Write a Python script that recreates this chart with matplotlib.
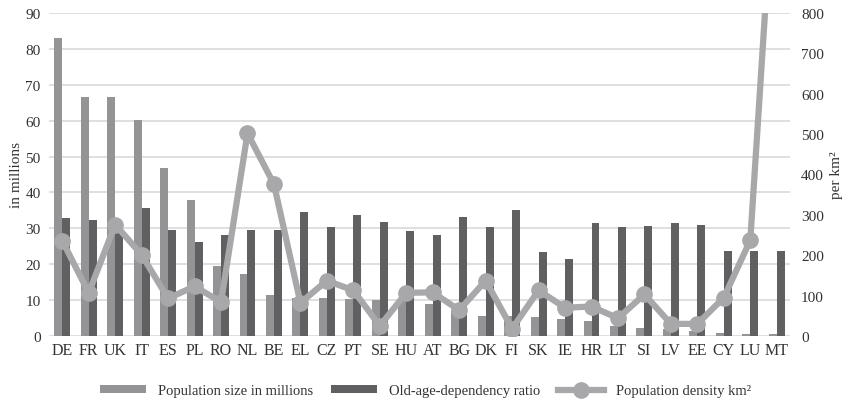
import numpy as np
import matplotlib
matplotlib.use("Agg")
import matplotlib.pyplot as plt

plt.rcParams['font.family'] = ['Liberation Serif', 'DejaVu Serif']

countries = ["DE", "FR", "UK", "IT", "ES", "PL", "RO", "NL", "BE", "EL", "CZ", "PT", "SE", "HU",
             "AT", "BG", "DK", "FI", "SK", "IE", "HR", "LT", "SI", "LV", "EE", "CY", "LU", "MT"]

# population size in millions
population = [83.0, 66.7, 66.5, 60.3, 46.7, 38.0, 19.4, 17.2, 11.4, 10.7, 10.6, 10.3, 10.0, 9.8,
              8.8, 7.1, 5.7, 5.5, 5.4, 4.8, 4.1, 2.8, 2.1, 1.9, 1.3, 0.85, 0.6, 0.46]

# old-age dependency ratio
old_age_ratio = [32.8, 32.3, 29.0, 35.6, 29.5, 26.1, 28.2, 29.5, 29.5, 34.5, 30.3, 33.7, 31.7, 29.2,
                 28.1, 33.1, 30.3, 35.1, 23.3, 21.4, 31.4, 30.3, 30.6, 31.4, 30.9, 23.6, 23.6, 23.6]

# population density per km2
density = [236, 107, 276, 201, 93, 123, 84, 502, 376, 82, 137, 113, 25, 107,
           108, 64, 137, 18, 113, 70, 73, 44, 103, 30, 30, 95, 237, 1250]

light_bar = "#949497"
dark_bar = "#606063"
line_col = "#a8a8ab"
grid_col = "#d9d9d9"
text_col = "#333333"

fig = plt.figure(figsize=(8.51, 4.06), dpi=100)
ax = fig.add_axes([0.0576, 0.170, 0.8707, 0.7955])
ax2 = ax.twinx()

x = np.arange(len(countries))
w = 0.30

ax.bar(x - w / 2, population, width=w, color=light_bar, zorder=2, label="Population size in millions")
ax.bar(x + w / 2, old_age_ratio, width=w, color=dark_bar, zorder=2, label="Old-age-dependency ratio")

ax2.plot(x, density, color=line_col, lw=4.5, marker="o", markersize=11,
         label="Population density km²", zorder=3)

ax.set_xlim(-0.5, len(countries) - 0.5)
ax.set_ylim(0, 90)
ax.set_yticks(range(0, 91, 10))
ax2.set_ylim(0, 800)
ax2.set_yticks(range(0, 801, 100))

ax.set_xticks(x)
ax.set_xticklabels(countries, fontsize=11.5, color=text_col)
ax.tick_params(axis="x", length=0, pad=4)
ax.tick_params(axis="y", length=0, labelsize=11, labelcolor=text_col, pad=6)
ax2.tick_params(axis="y", length=0, labelsize=11, labelcolor=text_col, pad=8)

ax.yaxis.grid(True, color=grid_col, lw=1.2, zorder=0)
ax.set_axisbelow(True)
for a in (ax, ax2):
    for s in a.spines.values():
        s.set_visible(False)

ax.set_ylabel("in millions", fontsize=11, color=text_col, labelpad=2)
ax2.set_ylabel("per km²", fontsize=11, color=text_col, labelpad=4)

# put line above bars
ax2.set_zorder(ax.get_zorder() + 1)
ax.patch.set_visible(True)
ax2.patch.set_visible(False)

h1, l1 = ax.get_legend_handles_labels()
h2, l2 = ax2.get_legend_handles_labels()
fig.legend(h1 + h2, l1 + l2, loc="center", bbox_to_anchor=(0.5, 0.035), ncol=3,
           frameon=False, fontsize=10.5, handlelength=3.2, handleheight=0.5,
           columnspacing=1.2, handletextpad=0.8, labelcolor=text_col)

fig.savefig("out.png", dpi=100)
